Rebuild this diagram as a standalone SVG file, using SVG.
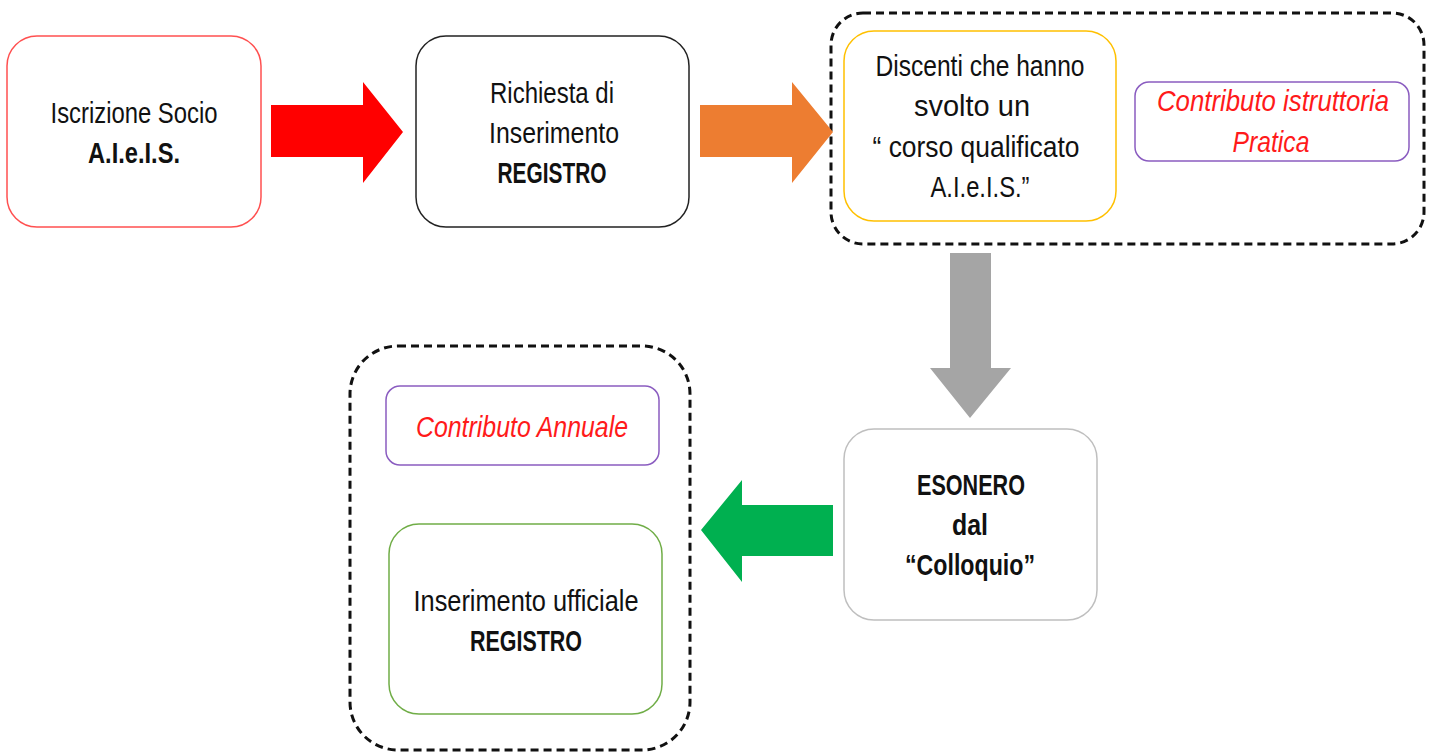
<svg xmlns="http://www.w3.org/2000/svg" width="1434" height="752" viewBox="0 0 1434 752">
<style>
.t{font-family:"Liberation Sans",Arial,sans-serif;font-size:30px;fill:#111;text-anchor:middle}
.b{font-weight:bold}
.i{font-style:italic;fill:#ff1a1a}
.box{fill:#fff;stroke-width:1.5}
.grp{fill:none;stroke:#111;stroke-width:3;stroke-dasharray:8,5}
</style>
<rect width="1434" height="752" fill="#fff"/>
<g id="group1"><rect class="grp" x="831" y="13" width="593" height="231" rx="32"/></g>
<g id="group2"><rect class="grp" x="350" y="346" width="340" height="404" rx="48"/></g>
<g id="connectors">
<polygon fill="#ff0000" points="271,105 363,105 363,82 403,132 363,183 363,157 271,157"/>
<polygon fill="#ed7d31" points="700,105 792,105 792,82 833,132 792,183 792,157 700,157"/>
<polygon fill="#a5a5a5" points="950,253 991,253 991,368 1011,368 970,418 930,368 950,368"/>
<polygon fill="#00b050" points="833,505 742,505 742,480 701,530 742,582 742,556 833,556"/>
</g>
<g id="n1">
<rect class="box" x="7" y="36" width="254" height="191" rx="30" stroke="#ff5050"/>
<text class="t" x="134" y="123" textLength="167" lengthAdjust="spacingAndGlyphs">Iscrizione Socio</text>
<text class="t b" x="134" y="163" textLength="92" lengthAdjust="spacingAndGlyphs">A.I.e.I.S.</text>
</g>
<g id="n2">
<rect class="box" x="416" y="36" width="273" height="191" rx="30" stroke="#222"/>
<text class="t" x="552" y="103" textLength="124" lengthAdjust="spacingAndGlyphs">Richiesta di</text>
<text class="t" x="554" y="143" textLength="130" lengthAdjust="spacingAndGlyphs">Inserimento</text>
<text class="t b" x="552" y="183" textLength="109" lengthAdjust="spacingAndGlyphs">REGISTRO</text>
</g>
<g id="n3">
<rect class="box" x="844" y="31" width="272" height="190" rx="30" stroke="#ffc000"/>
<text class="t" x="980" y="76" textLength="209" lengthAdjust="spacingAndGlyphs">Discenti che hanno</text>
<text class="t" x="972" y="116" textLength="116" lengthAdjust="spacingAndGlyphs">svolto un</text>
<text class="t" x="976" y="157" textLength="207" lengthAdjust="spacingAndGlyphs">“ corso qualificato</text>
<text class="t" x="980" y="197" textLength="99" lengthAdjust="spacingAndGlyphs">A.I.e.I.S.”</text>
</g>
<g id="n4">
<rect class="box" x="1135" y="82" width="274" height="79" rx="14" stroke="#8a5cc0"/>
<text class="t i" x="1273" y="111" textLength="232" lengthAdjust="spacingAndGlyphs">Contributo istruttoria</text>
<text class="t i" x="1271" y="152" textLength="77" lengthAdjust="spacingAndGlyphs">Pratica</text>
</g>
<g id="n5">
<rect class="box" x="844" y="429" width="253" height="191" rx="30" stroke="#bfbfbf"/>
<text class="t b" x="971" y="495" textLength="108" lengthAdjust="spacingAndGlyphs">ESONERO</text>
<text class="t b" x="970" y="535" textLength="36" lengthAdjust="spacingAndGlyphs">dal</text>
<text class="t b" x="970" y="575" textLength="130" lengthAdjust="spacingAndGlyphs">“Colloquio”</text>
</g>
<g id="n6">
<rect class="box" x="386" y="386" width="273" height="79" rx="14" stroke="#8a5cc0"/>
<text class="t i" x="522" y="437" textLength="212" lengthAdjust="spacingAndGlyphs">Contributo Annuale</text>
</g>
<g id="n7">
<rect class="box" x="389" y="524" width="273" height="190" rx="30" stroke="#70ad47"/>
<text class="t" x="526" y="611" textLength="225" lengthAdjust="spacingAndGlyphs">Inserimento ufficiale</text>
<text class="t b" x="526" y="651" textLength="112" lengthAdjust="spacingAndGlyphs">REGISTRO</text>
</g>
</svg>
